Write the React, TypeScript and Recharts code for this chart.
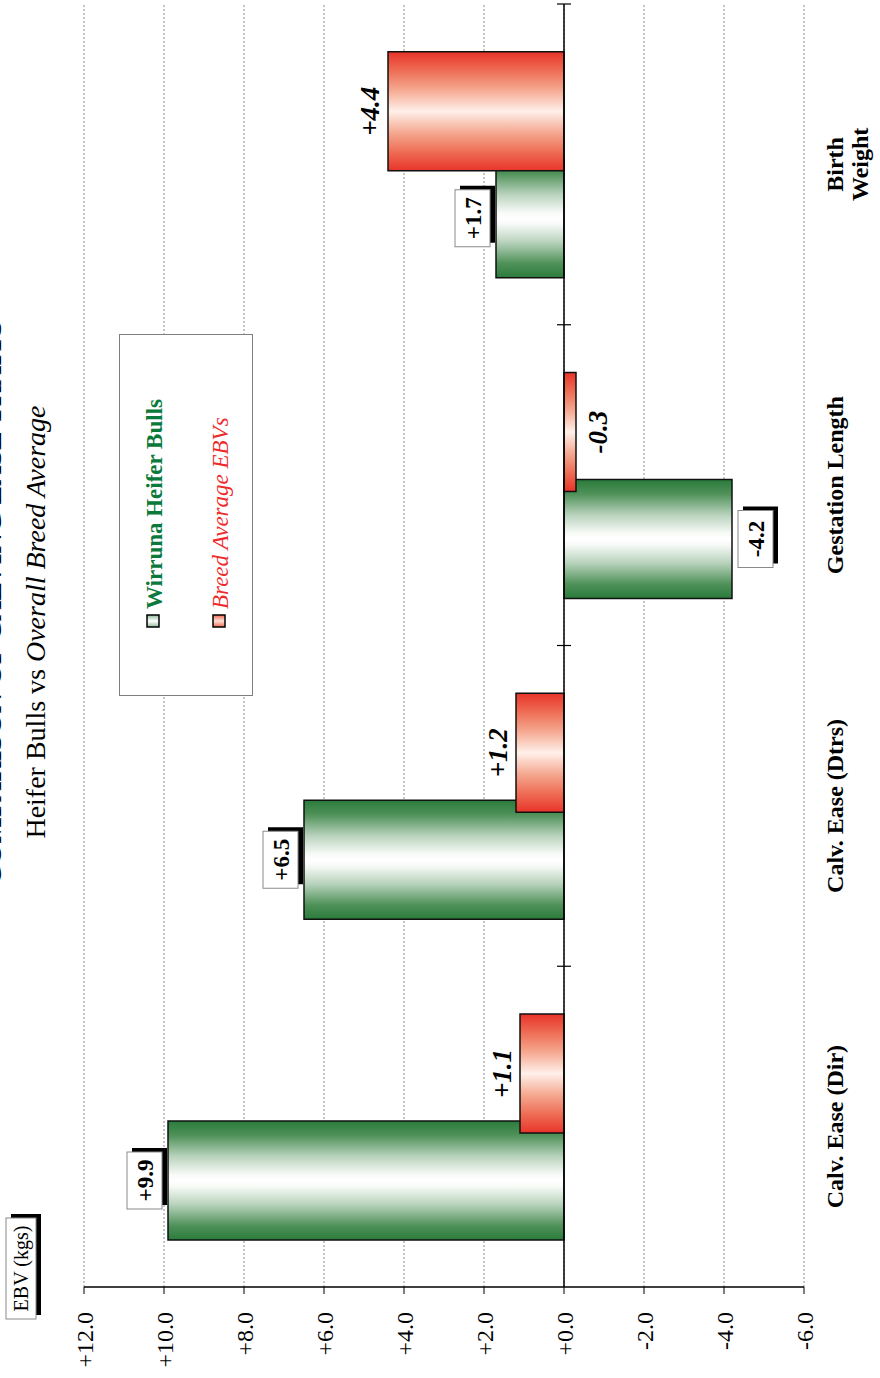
import React from "react";
import {
  Bar,
  BarChart,
  CartesianGrid,
  LabelList,
  Legend,
  ReferenceLine,
  XAxis,
  YAxis,
} from "recharts";

const categories = ["Calv. Ease (Dir)", "Calv. Ease (Dtrs)", "Gestation Length", "Birth\nWeight"];
const wirrunaEbv = [9.9, 6.5, -4.2, 1.7];
const breedAvgEbv = [1.1, 1.2, -0.3, 4.4];
const valueTicks = [-6, -4, -2, 0, 2, 4, 6, 8, 10, 12];

const data = categories.map((name, i) => ({
  name,
  wirruna: wirrunaEbv[i],
  breed: breedAvgEbv[i],
}));

const serif = "'Liberation Serif', 'Times New Roman', Times, serif";

const fmt = (v: number) => (v >= 0 ? `+${v.toFixed(1)}` : v.toFixed(1));

function barEnd(props: any) {
  const box = props.viewBox || props;
  const { x, y, width, height } = box;
  const top = Math.min(y, y + height);
  const bottom = Math.max(y, y + height);
  return { cx: x + width / 2, top, bottom };
}

function GreenLabel(props: any) {
  const v = Number(props.value);
  const { cx, top, bottom } = barEnd(props);
  const w = 57;
  const h = 35;
  const by = v >= 0 ? top - 6 - h : bottom + 6;
  return (
    <g>
      <rect x={cx - w / 2 + 4} y={by + 5} width={w} height={h} fill="#000" />
      <rect x={cx - w / 2} y={by} width={w} height={h} fill="#fff" stroke="#8a8a8a" />
      <text
        x={cx}
        y={by + h / 2}
        dy="0.35em"
        textAnchor="middle"
        fontFamily={serif}
        fontSize={23}
        fontWeight="bold"
        fill="#000"
      >
        {fmt(v)}
      </text>
    </g>
  );
}

function RedLabel(props: any) {
  const v = Number(props.value);
  const { cx, top, bottom } = barEnd(props);
  const ty = v >= 0 ? top - 9 : bottom + 31;
  return (
    <text
      x={cx}
      y={ty}
      textAnchor="middle"
      fontFamily={serif}
      fontSize={27}
      fontWeight="bold"
      fontStyle="italic"
      fill="#000"
    >
      {fmt(v)}
    </text>
  );
}

function CategoryTick({ x, y, payload }: any) {
  const lines = String(payload.value).split("\n");
  return (
    <text x={x} y={y} textAnchor="middle" fontFamily={serif} fontSize={24} fontWeight="bold" fill="#000">
      {lines.map((l, i) => (
        <tspan key={i} x={x} dy={i === 0 ? "0.71em" : "1.05em"}>
          {l}
        </tspan>
      ))}
    </text>
  );
}

function ZeroAxis(props: any) {
  const { x1, y1, x2 } = props;
  const step = (x2 - x1) / categories.length;
  return (
    <g>
      <line x1={x1} y1={y1} x2={x2} y2={y1} stroke="#000" strokeWidth={1.5} />
      {categories.map((_, i) => (
        <line
          key={i}
          x1={x1 + step * (i + 1)}
          x2={x1 + step * (i + 1)}
          y1={y1 - 7}
          y2={y1 + 7}
          stroke="#000"
          strokeWidth={1.2}
        />
      ))}
    </g>
  );
}

function UnitBox({ viewBox }: any) {
  const axisX = viewBox.x + viewBox.width;
  const left = axisX - 32;
  const top = viewBox.y - 78;
  return (
    <g>
      <rect x={left + 4} y={top + 5} width={101} height={30} fill="#000" />
      <rect x={left} y={top} width={101} height={30} fill="#fff" stroke="#8a8a8a" />
      <text x={left + 50.5} y={top + 15} dy="0.35em" textAnchor="middle" fontFamily={serif} fontSize={20} fill="#000">
        EBV (kgs)
      </text>
    </g>
  );
}

function LegendBox({ payload }: any) {
  const items = payload || [];
  return (
    <div
      style={{
        width: 362,
        height: 134,
        boxSizing: "border-box",
        border: "1px solid #7f7f7f",
        background: "#fff",
      }}
    >
      <svg width={360} height={132}>
        {items.map((p: any, i: number) => {
          const isGreen = p.dataKey === "wirruna";
          const rowY = isGreen ? 0 : 66;
          return (
            <g key={i}>
              <rect
                x={68}
                y={27 + rowY}
                width={12}
                height={12}
                fill={isGreen ? "url(#legGreen)" : "url(#legRed)"}
                stroke="#000"
                strokeWidth={1.5}
              />
              <text
                x={86}
                y={42 + rowY}
                fontFamily={serif}
                fontSize={23}
                fontWeight={isGreen ? "bold" : "normal"}
                fontStyle={isGreen ? "normal" : "italic"}
                fill={isGreen ? "#0a7a3c" : "#ee2b2b"}
              >
                {p.value}
              </text>
            </g>
          );
        })}
        <defs>
          <linearGradient id="legGreen" x1="0" y1="0" x2="1" y2="0">
            <stop offset="0" stopColor="#8fb898" />
            <stop offset="0.5" stopColor="#ffffff" />
            <stop offset="1" stopColor="#8fb898" />
          </linearGradient>
          <linearGradient id="legRed" x1="0" y1="0" x2="1" y2="0">
            <stop offset="0" stopColor="#ee6a52" />
            <stop offset="0.5" stopColor="#fde0d6" />
            <stop offset="1" stopColor="#ee6a52" />
          </linearGradient>
        </defs>
      </svg>
    </div>
  );
}

export default function App() {
  return (
    <div
      style={{
        position: "absolute",
        left: 0,
        top: 0,
        width: 1378,
        height: 880,
        background: "#fff",
        transformOrigin: "0 0",
        transform: "translateY(1378px) rotate(-90deg)",
      }}
    >
      <BarChart
        data={data}
        width={1378}
        height={880}
        margin={{ top: 84, right: 4, bottom: 0, left: 0 }}
        barGap={-12}
        barSize={119}
      >
        <defs>
          <linearGradient id="gGreen" x1="0" y1="0" x2="1" y2="0">
            <stop offset="0" stopColor="#2a7b3b" />
            <stop offset="0.12" stopColor="#4f9159" />
            <stop offset="0.3" stopColor="#b9d3bd" />
            <stop offset="0.45" stopColor="#f7faf7" />
            <stop offset="0.5" stopColor="#ffffff" />
            <stop offset="0.55" stopColor="#f7faf7" />
            <stop offset="0.7" stopColor="#b9d3bd" />
            <stop offset="0.88" stopColor="#4f9159" />
            <stop offset="1" stopColor="#2a7b3b" />
          </linearGradient>
          <linearGradient id="gRed" x1="0" y1="0" x2="1" y2="0">
            <stop offset="0" stopColor="#e8342a" />
            <stop offset="0.15" stopColor="#ee6a52" />
            <stop offset="0.32" stopColor="#f5a890" />
            <stop offset="0.5" stopColor="#fff0ea" />
            <stop offset="0.68" stopColor="#f5a890" />
            <stop offset="0.85" stopColor="#ee6a52" />
            <stop offset="1" stopColor="#e8342a" />
          </linearGradient>
        </defs>
        <text x={775} y={1} textAnchor="middle" fontFamily={serif} fontSize={28} fontWeight="bold" fill="#000">
          COMPARISON OF CALVING EASE TRAITS
        </text>
        <text x={756} y={45} textAnchor="middle" fontFamily={serif} fontSize={28} fill="#000">
          Heifer Bulls vs <tspan fontStyle="italic">Overall Breed Average</tspan>
        </text>
        <CartesianGrid vertical={false} stroke="#8c8c8c" strokeDasharray="2 2" />
        <XAxis
          dataKey="name"
          height={76}
          axisLine={false}
          tickLine={false}
          tickSize={0}
          tickMargin={22}
          tick={<CategoryTick />}
          interval={0}
        />
        <YAxis
          type="number"
          width={91}
          domain={[-6, 12]}
          ticks={valueTicks}
          tickFormatter={fmt}
          axisLine={{ stroke: "#000", strokeWidth: 1.5 }}
          tickLine={{ stroke: "#000" }}
          tickSize={7}
          tickMargin={18}
          tick={{ fontFamily: serif, fontSize: 24, fill: "#000" }}
          label={{ content: <UnitBox /> }}
        />
        <Legend
          layout="vertical"
          align="center"
          verticalAlign="middle"
          wrapperStyle={{ left: 682, top: 119, width: 362, height: 134 }}
          content={<LegendBox />}
        />
        <Bar
          dataKey="wirruna"
          name="Wirruna Heifer Bulls"
          fill="url(#gGreen)"
          stroke="#111"
          strokeWidth={1.5}
          isAnimationActive={false}
        >
          <LabelList dataKey="wirruna" content={<GreenLabel />} />
        </Bar>
        <Bar
          dataKey="breed"
          name="Breed Average EBVs"
          fill="url(#gRed)"
          stroke="#111"
          strokeWidth={1.5}
          isAnimationActive={false}
        >
          <LabelList dataKey="breed" content={<RedLabel />} />
        </Bar>
        <ReferenceLine y={0} shape={<ZeroAxis />} />
      </BarChart>
    </div>
  );
}
